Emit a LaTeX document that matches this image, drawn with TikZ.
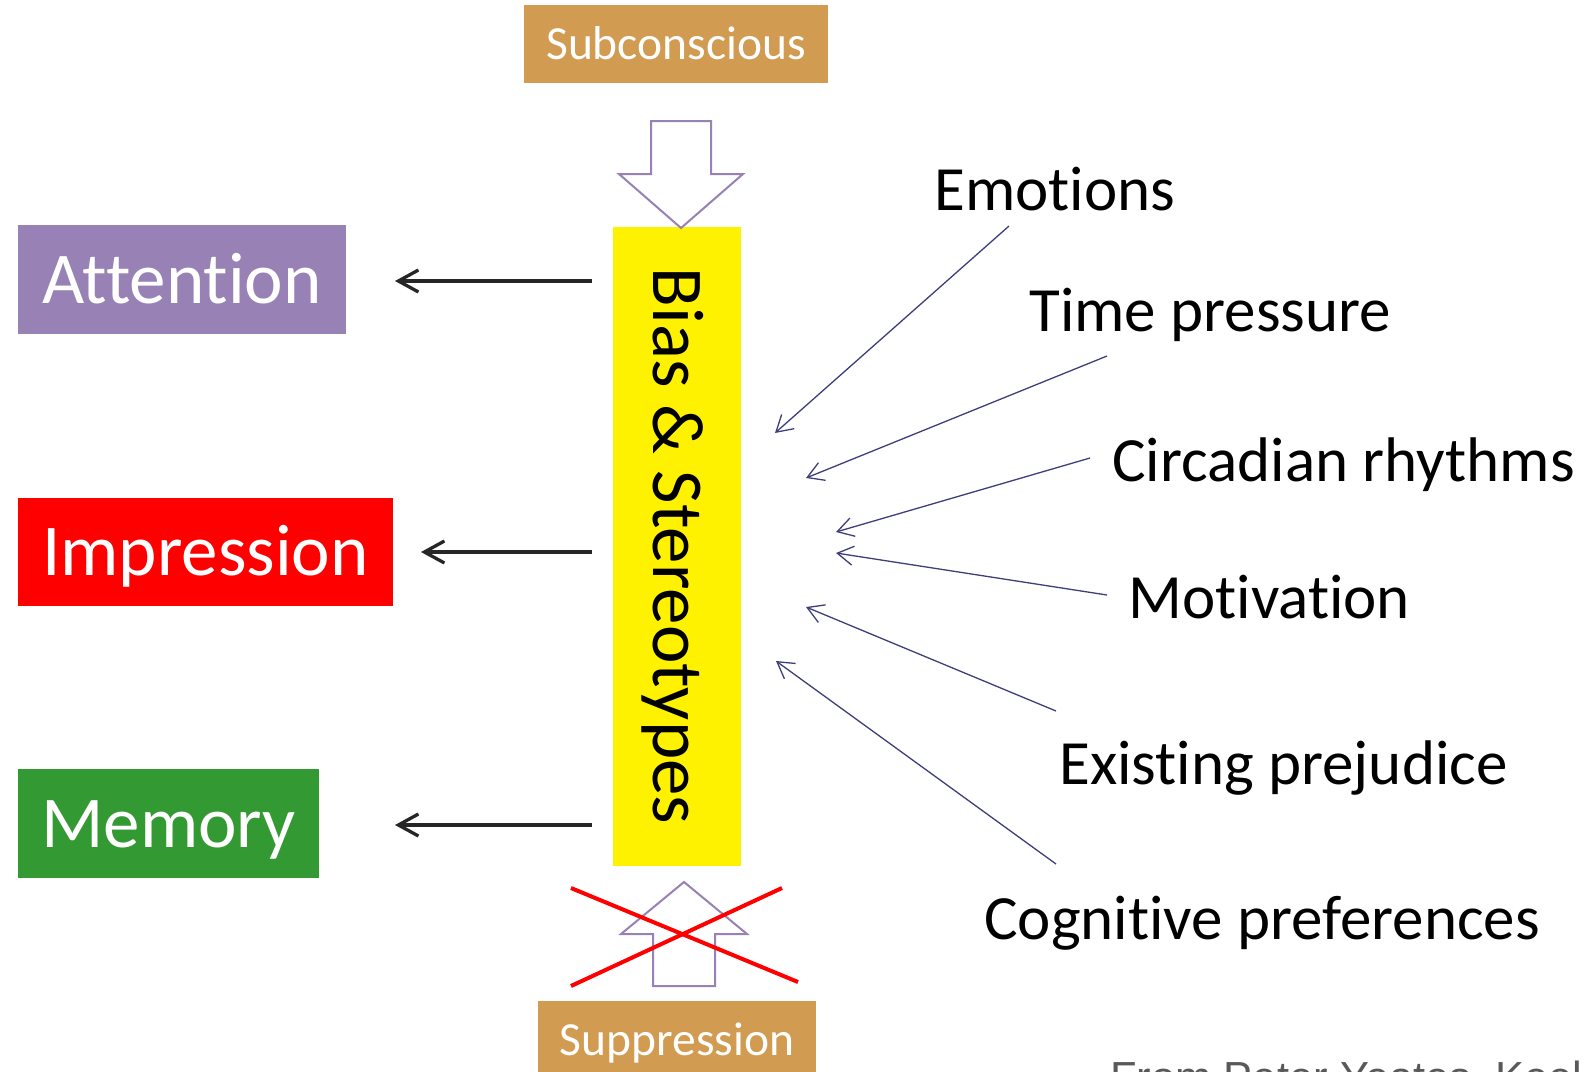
\documentclass[tikz,border=0pt]{standalone}
\usepackage{fontspec}
\setmainfont{Carlito}[Ligatures={NoCommon,NoRare}]
\newfontfamily\creditfont{Liberation Sans}
\usetikzlibrary{arrows.meta}

\definecolor{lavender}{RGB}{152,129,180}
\definecolor{ochre}{RGB}{210,155,82}
\definecolor{leafgreen}{RGB}{51,153,51}
\definecolor{navyline}{RGB}{62,62,122}
\definecolor{inkgray}{RGB}{38,38,38}
\definecolor{creditgray}{RGB}{89,89,89}

\begin{document}
\begin{tikzpicture}[x=0.5pt,y=-0.5pt,
  outcome box/.style={fill=#1, text=white, inner sep=0pt,
    text height=23.5pt, text depth=0pt, font=\fontsize{36.5}{40}\selectfont},
  tag box/.style={fill=ochre, text=white, inner sep=0pt,
    text height=15.3pt, text depth=0pt, font=\fontsize{23.75}{28}\selectfont,
    minimum height=39pt},
  factor/.style={anchor=base west, inner sep=0pt, font=\fontsize{31.5}{36}\selectfont},
  feed/.style={draw=navyline, line width=0.65pt,
    -{Straight Barb[length=8pt,width=9.5pt]}},
  outflow/.style={draw=inkgray, line width=1.65pt,
    -{Straight Barb[length=10pt,width=11pt]}},
  block arrow/.style={draw=lavender, fill=white, line width=1pt, line join=miter},
  strike line/.style={draw=red, line width=2pt}
]
\useasboundingbox (0,0) rectangle (1589,1071);
\clip (0,0) rectangle (1589,1071);

% central bar
\node[fill=yellow, inner sep=0pt, rotate=-90,
      minimum width=319.5pt, minimum height=64pt,
      text height=23.5pt, text depth=0pt,
      font=\fontsize{36.5}{40}\selectfont] (bias) at (677,546) {Bias \& Stereotypes};

% top and bottom tags
\node[tag box, minimum width=152pt] (subc) at (676,44) {Subconscious};
\node[tag box, minimum width=139pt] (supp) at (677,1040) {Suppression};

% block arrows
\draw[block arrow] (651,121) -- (711,121) -- (711,174) -- (743,174)
  -- (681,228) -- (619,174) -- (651,174) -- cycle;
\draw[block arrow] (653,986) -- (715,986) -- (715,934) -- (747,934)
  -- (684,882) -- (621,934) -- (653,934) -- cycle;

% crossed out
\coordinate (xa1) at (571,888);
\coordinate (xa2) at (798,982);
\coordinate (xb1) at (571,986);
\coordinate (xb2) at (782,888);
\draw[strike line] (xa1) -- (xa2);
\draw[strike line] (xb1) -- (xb2);

% outcomes
\node[outcome box=lavender, minimum width=164pt, minimum height=54.5pt] (attention) at (182,279.5) {Attention};
\node[outcome box=red, minimum width=187.5pt, minimum height=54pt] (impression) at (205.5,552) {Impression};
\node[outcome box=leafgreen, minimum width=150.5pt, minimum height=54.5pt] (memory) at (168.5,823.5) {Memory};

\coordinate (att-src) at (592,281);
\coordinate (att-dst) at (395,281);
\coordinate (imp-src) at (592,552);
\coordinate (imp-dst) at (421,552);
\coordinate (mem-src) at (592,825);
\coordinate (mem-dst) at (395,825);
\draw[outflow] (att-src) -- (att-dst);
\draw[outflow] (imp-src) -- (imp-dst);
\draw[outflow] (mem-src) -- (mem-dst);

% influencing factors
\node[factor] (emotions)   at (934,210)  {Emotions};
\node[factor] (timep)      at (1029,331) {Time pressure};
\node[factor] (circadian)  at (1112,481) {Circadian rhythms};
\node[factor] (motivation) at (1128,618) {Motivation};
\node[factor] (prejudice)  at (1059,784) {Existing prejudice};
\node[factor] (cognitive)  at (984,939)  {Cognitive preferences};

\coordinate (emo-t) at (1009,226);  \coordinate (emo-h) at (775,433);
\coordinate (tim-t) at (1107,356);  \coordinate (tim-h) at (806,478);
\coordinate (cir-t) at (1090,458);  \coordinate (cir-h) at (836,532);
\coordinate (mot-t) at (1107,595);  \coordinate (mot-h) at (836,553);
\coordinate (pre-t) at (1056,711);  \coordinate (pre-h) at (806,607);
\coordinate (cog-t) at (1056,864);  \coordinate (cog-h) at (776,661);
\draw[feed] (emo-t) -- (emo-h);
\draw[feed] (tim-t) -- (tim-h);
\draw[feed] (cir-t) -- (cir-h);
\draw[feed] (mot-t) -- (mot-h);
\draw[feed] (pre-t) -- (pre-h);
\draw[feed] (cog-t) -- (cog-h);

% source line
\node[anchor=base west, inner sep=0pt, text=creditgray,
      font=\creditfont\fontsize{21.75}{26}\selectfont] (credit) at (1110,1092) {From Peter Yeates, Keel};
\end{tikzpicture}
\end{document}
